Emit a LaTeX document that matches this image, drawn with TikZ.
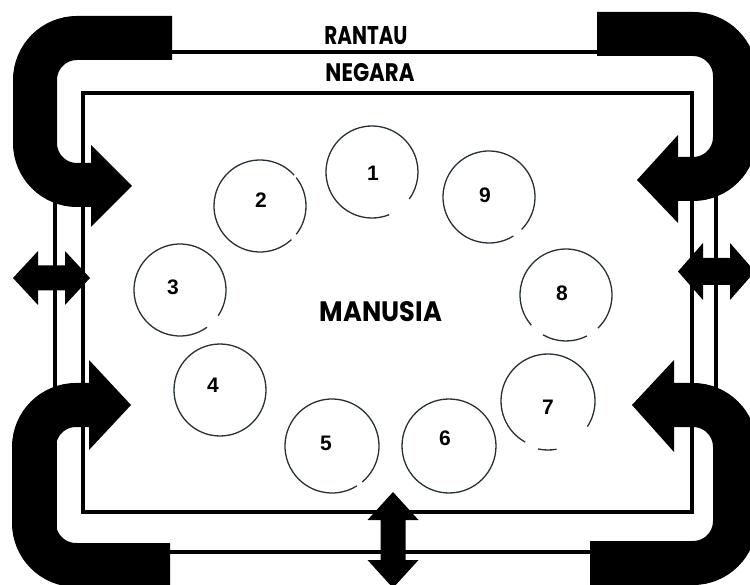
\documentclass[tikz,border=0pt]{standalone}
\usepackage{fontspec}
\newfontfamily\popfont{Poppins}
\newfontfamily\numfont{Liberation Sans}
\begin{document}
\begin{tikzpicture}[x=1pt,y=-1pt,
  frame/.style={line width=3.2pt, draw=black},
  band/.style={line width=44pt, draw=black, rounded corners=42pt, line cap=butt},
  head/.style={fill=black, draw=none},
  ring/.style={draw={rgb,255:red,38;green,48;blue,54}, line width=1.3pt},
  num/.style={font=\numfont\bfseries\fontsize{21}{21}\selectfont, inner sep=0pt},
  title/.style={inner sep=0pt}]
\fill[white] (0,0) rectangle (750,585);
\useasboundingbox (0,0) rectangle (750,585);

% frames
\draw[frame] (55,52) rectangle (716,552);
\draw[frame] (83,93) rectangle (692,512);

% U-shaped arrows
\draw[band] (172,38) -- (35,38) -- (35,185) -- (93,185);
\fill[head] (91,145) -- (132,186) -- (91,227) -- cycle;

\draw[band] (597,34) -- (735,34) -- (735,179) -- (676,179);
\fill[head] (678,135) -- (637,180) -- (678,223) -- cycle;

\draw[band] (170,565) -- (34,565) -- (34,405) -- (91,405);
\fill[head] (89,360) -- (131,405) -- (89,450) -- cycle;

\draw[band] (590,563) -- (735,563) -- (735,405) -- (672,405);
\fill[head] (674,360) -- (632,405) -- (674,452) -- cycle;

% double arrows
\fill[head] (13,278) -- (38,251) -- (38,265.5) -- (65,265.5) -- (65,251) -- (90,278)
  -- (65,305) -- (65,290.5) -- (38,290.5) -- (38,305) -- cycle;
\fill[head] (678,271.5) -- (703,243) -- (703,258) -- (730,258) -- (730,243) -- (755,271.5)
  -- (730,300) -- (730,285) -- (703,285) -- (703,300) -- cycle;
\fill[head] (393,492) -- (418.5,520) -- (405.5,520) -- (405.5,560) -- (418.5,560) -- (393,588)
  -- (367.5,560) -- (380.5,560) -- (380.5,520) -- (367.5,520) -- cycle;

% titles
\node[title] (rantau) at (366,36) {\resizebox{83pt}{18pt}{\popfont\bfseries RANTAU}};
\node[title] (negara) at (370,73) {\resizebox{89pt}{18pt}{\popfont\bfseries NEGARA}};
\node[title] (manusia) at (381,312) {\resizebox{122pt}{20pt}{\popfont\bfseries MANUSIA}};

% circles
\coordinate (c1) at (372,172);
\coordinate (c2) at (260,206);
\coordinate (c3) at (180,290);
\coordinate (c4) at (220,390);
\coordinate (c5) at (332,446);
\coordinate (c6) at (449,446);
\coordinate (c7) at (548,401);
\coordinate (c8) at (566,295);
\coordinate (c9) at (489,197);

\draw[ring] (c1) ++(68:46) arc[start angle=68, end angle=396, radius=46];
\draw[ring] (c2) ++(47:46) arc[start angle=47, end angle=318, radius=46];
\draw[ring] (c2) ++(-38:46) arc[start angle=-38, end angle=38, radius=46];
\draw[ring] (c3) ++(54:46) arc[start angle=54, end angle=394, radius=46];
\draw[ring] (c4) circle[radius=46];
\draw[ring] (c5) ++(58:47) arc[start angle=58, end angle=410, radius=47];
\draw[ring] (c6) circle[radius=47];
\draw[ring] (c7) ++(119:47) arc[start angle=119, end angle=393, radius=47];
\draw[ring] (c7) ++(80:49) arc[start angle=80, end angle=102, radius=49];
\draw[ring] (c8) ++(63:46) arc[start angle=63, end angle=120, radius=46];
\draw[ring] (c8) ++(139:46) arc[start angle=139, end angle=406, radius=46];
\draw[ring] (c9) ++(58:46) arc[start angle=58, end angle=405, radius=46];

% numbers
\node[num] (n1) at (373,173) {1};
\node[num] (n2) at (261,200) {2};
\node[num] (n3) at (173,287) {3};
\node[num] (n4) at (213,385) {4};
\node[num] (n5) at (326,443) {5};
\node[num] (n6) at (445,438) {6};
\node[num] (n7) at (548,407) {7};
\node[num] (n8) at (562,293) {8};
\node[num] (n9) at (485,195) {9};
\end{tikzpicture}
\end{document}
